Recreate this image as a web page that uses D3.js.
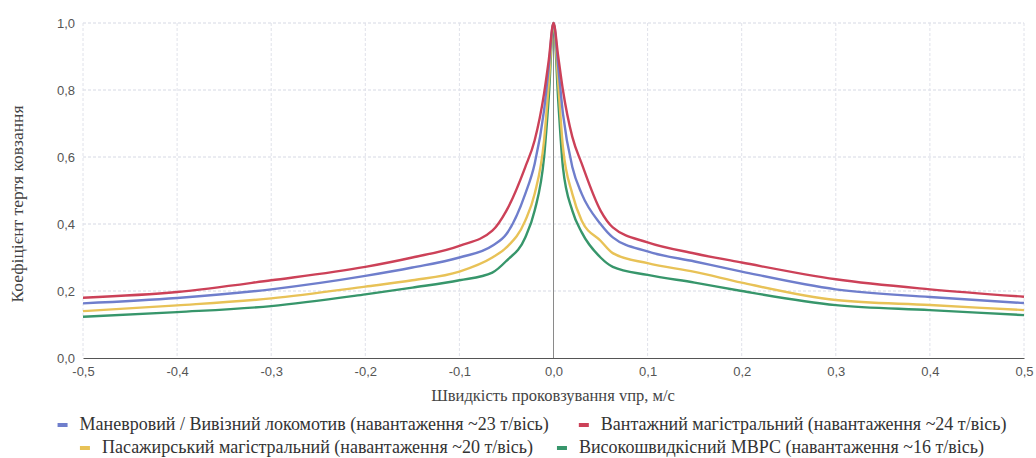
<!DOCTYPE html>
<html>
<head>
<meta charset="utf-8">
<script src="https://cdn.jsdelivr.net/npm/d3@7"></script>
<style>
  body { margin: 0; background: #fff; }
  svg { display: block; }
  .serif { font-family: "Liberation Serif", "DejaVu Serif", serif; }
  .sans { font-family: "Liberation Sans", Arial, sans-serif; }
</style>
</head>
<body>
<script>
// slip speed, m/s
var slipSpeed = [-0.5, -0.4, -0.3, -0.2, -0.15, -0.1, -0.065, -0.05, -0.03, -0.02, -0.01, -0.005, 0,
                 0.005, 0.01, 0.02, 0.03, 0.05, 0.063, 0.1, 0.15, 0.2, 0.3, 0.4, 0.5];

var shunting  = [0.163, 0.179, 0.205, 0.245, 0.27, 0.30, 0.335, 0.37, 0.49, 0.58, 0.74, 0.87, 1.0,
                 0.87, 0.73, 0.57, 0.49, 0.40, 0.36, 0.318, 0.288, 0.258, 0.205, 0.182, 0.164];
var freight   = [0.18, 0.197, 0.232, 0.272, 0.30, 0.335, 0.38, 0.44, 0.57, 0.65, 0.79, 0.89, 1.0,
                 0.90, 0.80, 0.66, 0.58, 0.44, 0.39, 0.345, 0.312, 0.285, 0.235, 0.205, 0.183];
var passenger = [0.14, 0.157, 0.178, 0.213, 0.232, 0.258, 0.30, 0.33, 0.41, 0.49, 0.65, 0.82, 1.0,
                 0.82, 0.63, 0.49, 0.41, 0.35, 0.313, 0.283, 0.257, 0.225, 0.173, 0.158, 0.143];
var highSpeed = [0.123, 0.137, 0.155, 0.19, 0.21, 0.232, 0.255, 0.29, 0.36, 0.44, 0.60, 0.78, 1.0,
                 0.77, 0.57, 0.44, 0.375, 0.30, 0.272, 0.248, 0.225, 0.20, 0.158, 0.143, 0.128];

var seriesNames = [
  'Маневровий / Вивізний локомотив (навантаження ~23 т/вісь)',
  'Вантажний магістральний (навантаження ~24 т/вісь)',
  'Пасажирський магістральний (навантаження ~20 т/вісь)',
  'Високошвидкісний МВРС (навантаження ~16 т/вісь)'
];
var xTicks = [-0.5, -0.4, -0.3, -0.2, -0.1, 0, 0.1, 0.2, 0.3, 0.4, 0.5];
var yTicks = [0, 0.2, 0.4, 0.6, 0.8, 1.0];

var colors = ['#6f7ecc', '#cc4158', '#e8c257', '#37966b'];
var allSeries = [shunting, freight, passenger, highSpeed];

var width = 1036;
var height = 458;
var svg = d3.select('body').append('svg')
  .attr('width', width)
  .attr('height', height);

var plotLeft = 83, plotRight = 1024, plotTop = 23, plotBottom = 358;

var x = d3.scaleLinear().domain([-0.5, 0.5]).range([plotLeft, plotRight]);
var y = d3.scaleLinear().domain([0, 1]).range([plotBottom, plotTop]);

var fmt = function(d) { return d3.format('.1f')(d).replace('.', ',').replace('\u2212', '-'); };

// grid
svg.append('g')
  .selectAll('line')
  .data(yTicks.slice(1))
  .enter().append('line')
  .attr('x1', plotLeft).attr('x2', plotRight)
  .attr('y1', function(d) { return y(d); })
  .attr('y2', function(d) { return y(d); })
  .attr('stroke', '#d6d9e4')
  .attr('stroke-dasharray', '3,2');

svg.append('g')
  .selectAll('line')
  .data(xTicks.filter(function(d) { return d !== 0; }))
  .enter().append('line')
  .attr('x1', function(d) { return x(d); })
  .attr('x2', function(d) { return x(d); })
  .attr('y1', plotTop).attr('y2', plotBottom)
  .attr('stroke', '#e0e2ea')
  .attr('stroke-dasharray', '3,2');

// zero line
svg.append('line')
  .attr('x1', x(0)).attr('x2', x(0))
  .attr('y1', plotTop).attr('y2', plotBottom)
  .attr('stroke', '#8a8a8a')
  .attr('stroke-width', 1);

// x axis
var xAxis = svg.append('g')
  .attr('transform', 'translate(0,' + plotBottom + ')')
  .call(d3.axisBottom(x).tickValues(xTicks).tickFormat(fmt).tickSize(0).tickPadding(9));
xAxis.attr('font-family', null).attr('font-size', null);
xAxis.select('.domain').attr('stroke', '#555').attr('stroke-width', 1.2);
xAxis.selectAll('text')
  .attr('class', 'sans')
  .attr('fill', '#555')
  .style('font-size', '13px');

// y axis
var yAxis = svg.append('g')
  .attr('transform', 'translate(' + plotLeft + ',0)')
  .call(d3.axisLeft(y).tickValues(yTicks).tickFormat(fmt).tickSize(0).tickPadding(8));
yAxis.attr('font-family', null).attr('font-size', null);
yAxis.select('.domain').remove();
yAxis.selectAll('text')
  .attr('class', 'sans')
  .attr('fill', '#555')
  .style('font-size', '13px');

// lines
var line = d3.line()
  .x(function(d, i) { return x(slipSpeed[i]); })
  .y(function(d) { return y(d); })
  .curve(d3.curveMonotoneX);

// draw order: green, yellow, blue, red on top
[3, 2, 0, 1].forEach(function(k) {
  svg.append('path')
    .attr('d', line(allSeries[k]))
    .attr('fill', 'none')
    .attr('stroke', colors[k])
    .attr('stroke-width', 2.4)
    .attr('stroke-linejoin', 'round');
});

// axis titles
svg.append('text')
  .attr('class', 'serif')
  .attr('x', 553)
  .attr('y', 401)
  .attr('text-anchor', 'middle')
  .attr('fill', '#444')
  .style('font-size', '16.5px')
  .text('Швидкість проковзування vпр, м/с');

svg.append('text')
  .attr('class', 'serif')
  .attr('transform', 'translate(23,204) rotate(-90)')
  .attr('text-anchor', 'middle')
  .attr('fill', '#444')
  .style('font-size', '17.5px')
  .text('Коефіцієнт тертя ковзання');

// legend: two centred rows
var rows = [[0, 1], [2, 3]];
var rowY = [430, 453];
var gap = [30, 24];
rows.forEach(function(row, r) {
  var g = svg.append('g');
  var cursor = 0;
  row.forEach(function(k) {
    var item = g.append('g').attr('transform', 'translate(' + cursor + ',0)');
    item.append('rect')
      .attr('x', 0).attr('y', -7)
      .attr('width', 10).attr('height', 4)
      .attr('fill', colors[k]);
    var t = item.append('text')
      .attr('class', 'serif')
      .attr('x', 22).attr('y', 0)
      .attr('fill', '#333')
      .style('font-size', '18px')
      .text(seriesNames[k]);
    cursor += 22 + t.node().getComputedTextLength() + gap[r];
  });
  var total = cursor - gap[r];
  g.attr('transform', 'translate(' + (532 - total / 2) + ',' + rowY[r] + ')');
});
</script>
</body>
</html>
